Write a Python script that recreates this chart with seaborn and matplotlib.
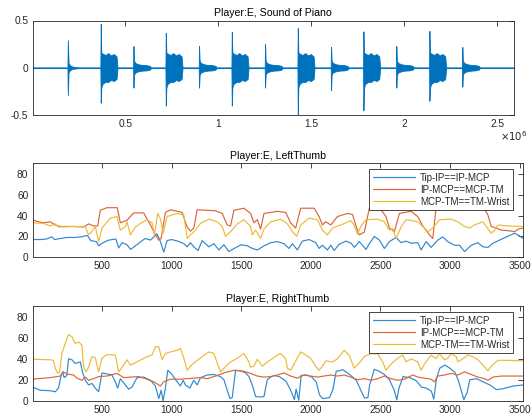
import numpy as np
import matplotlib
matplotlib.use("Agg")
import matplotlib.pyplot as plt
import seaborn as sns
from matplotlib.ticker import FuncFormatter

# --- DATA ---
# piano sound: note onsets (x1e6 samples) and the extreme values of each attack spike
note_onset = [0.190, 0.367, 0.543, 0.717, 0.896, 1.072, 1.251, 1.427, 1.606, 1.780, 1.957, 2.135, 2.312]
note_peak_up = [0.29, 0.465, 0.23, 0.37, 0.23, 0.38, 0.25, 0.42, 0.22, 0.385, 0.23, 0.39, 0.22]
note_peak_dn = [-0.29, -0.37, -0.21, -0.40, -0.21, -0.40, -0.21, -0.49, -0.24, -0.45, -0.21, -0.35, -0.20]
note_kind = ["first", "big", "small", "big", "small", "big", "small",
             "big", "small", "big", "small", "big", "small"]

# envelope shapes (offset from onset, upper, lower)
env_dt = {
    "first": [0.004, 0.012, 0.025, 0.045, 0.06],
    "big":   [0.003, 0.010, 0.025, 0.040, 0.055, 0.070, 0.085, 0.090],
    "small": [0.003, 0.010, 0.030, 0.050, 0.070, 0.088, 0.094],
}
env_up = {
    "first": [0.05, 0.025, 0.012, 0.007, 0.004],
    "big":   [0.16, 0.15, 0.135, 0.155, 0.13, 0.145, 0.12, 0.004],
    "small": [0.075, 0.05, 0.035, 0.03, 0.028, 0.02, 0.004],
}
env_dn = {
    "first": [-0.05, -0.025, -0.012, -0.007, -0.004],
    "big":   [-0.21, -0.17, -0.15, -0.15, -0.13, -0.14, -0.12, -0.004],
    "small": [-0.075, -0.05, -0.035, -0.03, -0.028, -0.02, -0.004],
}
noise = 0.004

# LeftThumb
lt_tip_x = [0, 60, 100, 140, 160, 200, 250, 300, 350, 395, 420, 460, 476, 500, 550, 600, 620, 645, 680, 705,
            750, 810, 850, 895, 915, 944, 968, 1000, 1045, 1090, 1112, 1135, 1160, 1190, 1220, 1268, 1304, 1340,
            1376, 1412, 1450, 1500, 1545, 1580, 1616, 1665, 1712, 1760, 1808, 1844, 1868, 1904, 1940, 1988, 2036,
            2060, 2084, 2120, 2144, 2168, 2204, 2252, 2290, 2313, 2349, 2397, 2421, 2457, 2493, 2529, 2565, 2613,
            2649, 2685, 2721, 2769, 2793, 2829, 2865, 2913, 2949, 2985, 3033, 3069, 3105, 3153, 3201, 3237, 3273,
            3309, 3357, 3405, 3465, 3495, 3525]
lt_tip_y = [17, 17, 17.5, 19.5, 17, 18, 19, 19, 19.5, 21, 16, 15, 11, 13.5, 16.5, 17.5, 9, 14, 12, 7.5,
            12, 18, 16.5, 22.5, 17, 5, 16, 17, 15.5, 13, 10, 14, 10, 6.5, 16, 10, 13, 7,
            12, 5.5, 8.5, 12, 11, 8.5, 7, 11, 14, 15, 13, 8.5, 13, 7, 15.5, 17, 14,
            8.5, 11.5, 7, 11.5, 6.5, 12.5, 15.5, 13.5, 9.5, 15, 7.5, 13, 20, 16.5, 8.5, 15, 19,
            14, 15.5, 13.5, 14, 7, 15, 9.5, 16.5, 19.5, 15, 11.5, 11.5, 5.5, 11.5, 14, 10, 9.5,
            13.5, 16.5, 19.5, 23, 21, 18]
lt_ip_x = [0, 30, 80, 128, 164, 200, 300, 368, 404, 440, 470, 488, 536, 610, 632, 680, 728, 800, 848, 884,
           908, 925, 956, 992, 1076, 1112, 1136, 1160, 1184, 1256, 1316, 1364, 1400, 1424, 1448, 1520, 1568,
           1592, 1616, 1640, 1664, 1760, 1820, 1856, 1892, 1928, 2024, 2060, 2084, 2108, 2144, 2192, 2264,
           2300, 2325, 2349, 2385, 2421, 2505, 2541, 2565, 2601, 2637, 2721, 2769, 2805, 2853, 2877, 2901,
           2930, 3000, 3060, 3081, 3141, 3249, 3273, 3297, 3333, 3369, 3417, 3465, 3490, 3525]
lt_ip_y = [36, 34.5, 33, 34, 31, 29.5, 29.5, 29, 32, 30, 30, 45, 47.5, 47.5, 33, 35.5, 42.5, 42.5, 31, 21.5,
           16.5, 18, 43, 45.5, 43, 29, 25, 28, 45.5, 45, 44.5, 42, 31, 30, 45, 47, 42,
           33, 36, 27, 42, 44, 43, 33, 28, 47, 47, 39, 31, 34, 31, 39, 42,
           41, 30, 21.5, 24, 47, 45.5, 39, 28, 24.5, 42, 44, 39, 30, 21.5, 18, 48,
           52, 52, 47, 45.5, 47, 46, 40.5, 29.5, 28, 26, 25.5, 24.5, 27, 28]
lt_mcp_x = [0, 80, 128, 164, 188, 296, 380, 404, 428, 452, 476, 500, 560, 608, 632, 668, 680, 704, 740, 776,
            824, 860, 877, 901, 920, 939, 968, 1040, 1088, 1112, 1136, 1172, 1208, 1268, 1328, 1364, 1388,
            1424, 1472, 1520, 1568, 1580, 1604, 1640, 1664, 1712, 1784, 1832, 1868, 1900, 1928, 1988, 2048,
            2084, 2120, 2156, 2216, 2288, 2312, 2336, 2361, 2397, 2481, 2529, 2565, 2589, 2613, 2649, 2685,
            2769, 2805, 2841, 2877, 2925, 3009, 3057, 3105, 3141, 3177, 3237, 3261, 3297, 3321, 3345, 3417, 3525]
lt_mcp_y = [33, 32.5, 30, 32, 29, 29.5, 29.5, 21.5, 24.5, 29.5, 15, 28, 37.5, 39, 26, 29.5, 34, 21.5, 29, 32.5,
            36, 33, 21.5, 42, 37, 23, 39, 42, 40.5, 18, 21.5, 26, 32.5, 36.5, 34, 29.5, 20,
            24.5, 32, 36, 29.5, 21.5, 26, 18, 27, 34, 36.5, 32, 24.5, 20, 31, 37.5, 36,
            26, 21.5, 28, 31, 35, 31, 22, 30, 36, 36.5, 34, 26, 27.5, 18, 29, 36,
            34, 29.5, 24.5, 28, 36, 36.5, 34, 29.5, 28, 31, 34, 29.5, 23, 26, 31, 30, 29.5]

# RightThumb
rt_tip_x = [0, 56, 128, 164, 188, 205, 217, 229, 248, 260, 284, 308, 344, 363, 380, 404, 428, 452, 476, 500,
            536, 572, 596, 613, 632, 668, 692, 716, 752, 800, 848, 884, 908, 925, 939, 956, 973, 997, 1021,
            1040, 1064, 1083, 1100, 1131, 1160, 1184, 1208, 1256, 1304, 1352, 1376, 1400, 1420, 1436, 1460,
            1496, 1532, 1556, 1580, 1604, 1640, 1664, 1688, 1712, 1736, 1775, 1823, 1859, 1883, 1895, 1914,
            1931, 1967, 2003, 2039, 2063, 2087, 2135, 2159, 2183, 2231, 2279, 2327, 2363, 2387, 2411, 2423,
            2457, 2493, 2529, 2565, 2600, 2618, 2634, 2663, 2711, 2759, 2795, 2831, 2867, 2884, 2903, 2927,
            2963, 2999, 3035, 3059, 3083, 3100, 3124, 3143, 3191, 3239, 3287, 3335, 3383, 3455, 3525]
rt_tip_y = [13, 10, 9.5, 8.5, 12, 23, 27.5, 22, 24, 40, 39, 35.5, 37, 26, 19.5, 15, 16.5, 12, 8.5, 26.5,
            25.5, 24.5, 18, 12, 21, 15, 11, 13, 22, 22.5, 19.5, 14, 2, 10, 0, 12, 29, 26, 21.5,
            18, 14, 19.5, 15, 12, 19.5, 15, 22, 24.5, 25, 23, 20, 10, 2, 3, 29,
            28.5, 26.5, 23, 15, 4, 3.5, 4, 20, 22.5, 24, 23, 18.5, 9, 1, 11, 0.5,
            24, 24.5, 23, 18, 5.5, 2, 3, 10.5, 28, 29.5, 25, 19.5, 9, 2.5, 3, 15,
            30, 28, 25, 20, 10, 0.8, 12, 23, 22, 19, 13, 12, 9, 1.5, 21, 31,
            34, 31, 27, 20, 9, 1, 8, 20, 21, 18, 15, 10.5, 11.5, 14, 15]
rt_ip_x = [0, 128, 200, 224, 248, 296, 320, 356, 380, 404, 440, 476, 536, 608, 656, 704, 764, 812, 872, 920,
           944, 992, 1064, 1112, 1160, 1208, 1256, 1328, 1376, 1448, 1520, 1568, 1616, 1664, 1712, 1760, 1808,
           1856, 1904, 1952, 2000, 2048, 2096, 2144, 2192, 2240, 2288, 2336, 2385, 2433, 2481, 2529, 2577,
           2625, 2673, 2733, 2769, 2817, 2865, 2889, 2913, 2961, 3009, 3057, 3105, 3153, 3201, 3249, 3273,
           3309, 3369, 3525]
rt_ip_y = [20.5, 22, 23.5, 27.5, 25.5, 24.5, 21.5, 19.5, 22.5, 19.5, 21, 23, 23.5, 26, 22, 22.5, 23, 21, 18, 14,
           18, 20.5, 20.5, 21, 21.5, 22, 21, 24, 26.5, 29, 28, 26, 23.5, 22.5, 23, 24.5, 26.5,
           23.5, 21.5, 24.5, 23.5, 22.5, 23.5, 24.5, 23.5, 24.5, 22.5, 20, 21, 19.5, 21, 23.5, 21,
           19.5, 20.5, 24.5, 22.5, 21.5, 20.5, 18, 23.5, 24.5, 26, 24.5, 27.5, 25, 22.5, 21, 19.5,
           22.5, 23.5, 23.5]
rt_mcp_x = [0, 128, 152, 164, 181, 195, 212, 236, 260, 284, 308, 332, 356, 368, 387, 404, 428, 452, 476, 500,
            536, 596, 620, 656, 680, 704, 752, 824, 860, 884, 908, 932, 956, 992, 1040, 1064, 1088, 1112,
            1136, 1184, 1220, 1268, 1304, 1328, 1352, 1388, 1424, 1472, 1520, 1556, 1568, 1592, 1616, 1652,
            1688, 1724, 1760, 1784, 1820, 1832, 1856, 1880, 1928, 1964, 2000, 2036, 2060, 2084, 2108, 2156,
            2192, 2240, 2276, 2312, 2349, 2385, 2433, 2481, 2517, 2541, 2577, 2625, 2661, 2685, 2721, 2769,
            2793, 2817, 2865, 2901, 2925, 2961, 2985, 3009, 3045, 3057, 3093, 3129, 3165, 3201, 3237, 3273,
            3297, 3345, 3417, 3525]
rt_mcp_y = [39.5, 39, 38.5, 31, 26.5, 26.5, 45, 54.5, 63, 61, 54.5, 56, 53, 32, 27.5, 32, 42, 41, 27.5, 40.5,
            44, 43.5, 27.5, 34, 39, 34, 37, 42, 43.5, 51.5, 51.5, 39, 45, 46.5, 48, 50, 40.5, 29,
            33, 38.5, 42, 46.5, 45, 36, 27.5, 32.5, 37, 40.5, 45, 37, 32, 33, 39.5, 33,
            37, 40, 43.5, 45, 40, 31, 29, 35, 46.5, 43.5, 40.5, 32.5, 29, 33, 38, 37,
            40, 48, 43.5, 31, 36, 42, 45, 44.5, 37, 29, 35, 40.5, 43.5, 37, 40, 37,
            29, 35, 43.5, 40, 45, 39, 40.5, 45, 42, 37, 40, 43.5, 42, 39, 34, 28.5,
            33, 38.5, 38.5, 38]

series_labels = ["Tip-IP==IP-MCP", "IP-MCP==MCP-TM", "MCP-TM==TM-Wrist"]
series_colors = ["#2f88d0", "#dd6535", "#eeb936"]

# --- STYLE ---
sns.set_style("white")
plt.rcParams["font.family"] = ["Liberation Sans", "DejaVu Sans"]
plt.rcParams["axes.unicode_minus"] = False
AX_COL = "#262626"

W, H = 532, 417
fig = plt.figure(figsize=(W / 100, H / 100), dpi=100)


def box(px_left, px_top, px_right, px_bottom):
    return [px_left / W, 1 - px_bottom / H, (px_right - px_left) / W, (px_bottom - px_top) / H]


def matlab_axes(ax):
    for s in ax.spines.values():
        s.set_visible(True)
        s.set_color(AX_COL)
        s.set_linewidth(0.6)
    ax.tick_params(direction="in", length=3.5, width=0.6, color=AX_COL,
                   labelcolor=AX_COL, labelsize=7.3, top=True, right=True, pad=3)


# --- 1. piano waveform ---
ax1 = fig.add_axes(box(32.5, 20.5, 514, 115))
wx, wup, wdn = [0.0], [noise], [-noise]
for on, pu, pd, kind in zip(note_onset, note_peak_up, note_peak_dn, note_kind):
    wx += [on - 0.002, on]
    wup += [noise, pu]
    wdn += [-noise, pd]
    wx += [on + d for d in env_dt[kind]]
    wup += env_up[kind]
    wdn += env_dn[kind]
wx.append(2.59)
wup.append(noise)
wdn.append(-noise)
wx = np.array(wx) * 1e6
ax1.fill_between(wx, wdn, wup, color="#0072BD", lw=0.6, edgecolor="#0072BD")
ax1.set_xlim(0, 2.59e6)
ax1.set_ylim(-0.5, 0.5)
ax1.set_xticks([0.5e6, 1e6, 1.5e6, 2e6, 2.5e6])
ax1.xaxis.set_major_formatter(FuncFormatter(lambda v, p: f"{v / 1e6:g}"))
ax1.set_yticks([-0.5, 0, 0.5])
ax1.yaxis.set_major_formatter(FuncFormatter(lambda v, p: f"{v:g}"))
matlab_axes(ax1)
ax1.set_title("Player:E, Sound of Piano", fontsize=7.6, color="black", pad=3)
ax1.text(1.029, -0.225, r"$\times10^{6}$", transform=ax1.transAxes, ha="right", va="center",
         fontsize=7.3, color=AX_COL)


# --- 2/3. thumb angles ---
def thumb_panel(rect, title, xs, ys):
    ax = fig.add_axes(rect)
    for x, y, lab, col in zip(xs, ys, series_labels, series_colors):
        sns.lineplot(x=x, y=y, ax=ax, color=col, lw=0.85, label=lab, errorbar=None)
    ax.set_xlim(1, 3525)
    ax.set_ylim(0, 90)
    ax.set_xticks([500, 1000, 1500, 2000, 2500, 3000, 3500])
    ax.set_yticks([0, 20, 40, 60, 80])
    ax.set_xlabel("")
    ax.set_ylabel("")
    matlab_axes(ax)
    ax.set_title(title, fontsize=7.6, color="black", pad=3)
    leg = ax.legend(loc="upper right", bbox_to_anchor=(0.9796, 0.936), borderaxespad=0,
                    fancybox=False, framealpha=1, edgecolor=AX_COL, fontsize=7,
                    handlelength=4.4, handletextpad=0.5, borderpad=0.35, labelspacing=0.2)
    leg.get_frame().set_linewidth(0.6)
    return ax


thumb_panel(box(32.5, 163.3, 523, 257.3), "Player:E, LeftThumb",
            [lt_tip_x, lt_ip_x, lt_mcp_x], [lt_tip_y, lt_ip_y, lt_mcp_y])
thumb_panel(box(32.5, 306.3, 523, 400.7), "Player:E, RightThumb",
            [rt_tip_x, rt_ip_x, rt_mcp_x], [rt_tip_y, rt_ip_y, rt_mcp_y])

fig.savefig("out.png", dpi=100)
